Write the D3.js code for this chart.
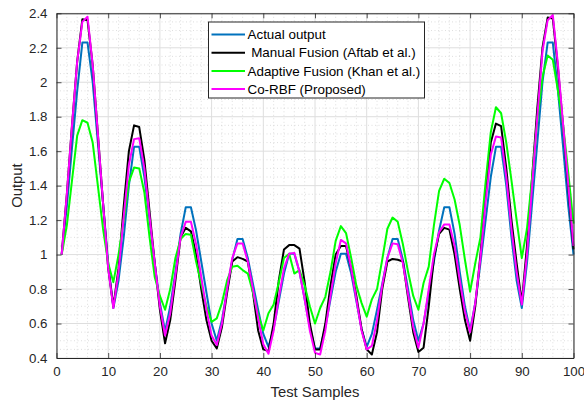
<!DOCTYPE html>
<html>
<head>
<meta charset="utf-8">
<script src="https://cdn.jsdelivr.net/npm/d3@7"></script>
<style>
  html, body { margin: 0; padding: 0; background: #fff; }
  svg { display: block; }
  text { font-family: "Liberation Sans", Arial, Helvetica, sans-serif; }
</style>
</head>
<body>
<svg id="chart" width="584" height="405"></svg>
<script>
// ---------------- data ----------------
const xTicks = [0, 10, 20, 30, 40, 50, 60, 70, 80, 90, 100];
const yTicks = [0.4, 0.6, 0.8, 1, 1.2, 1.4, 1.6, 1.8, 2, 2.2, 2.4];
const yTickLabels = ["0.4", "0.6", "0.8", "1", "1.2", "1.4", "1.6", "1.8", "2", "2.2", "2.4"];

const seriesNames = ["Actual output", " Manual Fusion (Aftab et al.)", "Adaptive Fusion (Khan et al.)", "Co-RBF (Proposed)"];
const seriesColors = ["#0072BD", "#000000", "#00FF00", "#FF00FF"];

const actualOutput = [
  1.00, 1.28, 1.62, 1.95, 2.23, 2.23, 2.00, 1.65, 1.30, 0.95,
  0.69, 0.85, 1.10, 1.40, 1.625, 1.625, 1.45, 1.20, 0.95, 0.72,
  0.555, 0.70, 0.90, 1.12, 1.275, 1.275, 1.14, 0.96, 0.78, 0.60,
  0.50, 0.62, 0.80, 0.97, 1.09, 1.09, 0.98, 0.83, 0.68, 0.54,
  0.465, 0.57, 0.73, 0.89, 1.005, 1.005, 0.90, 0.74, 0.58, 0.455,
  0.455, 0.58, 0.74, 0.90, 1.005, 1.005, 0.89, 0.73, 0.57, 0.465,
  0.54, 0.68, 0.83, 0.98, 1.09, 1.09, 0.97, 0.80, 0.62, 0.50,
  0.60, 0.78, 0.96, 1.14, 1.275, 1.275, 1.12, 0.90, 0.70, 0.56,
  0.72, 0.95, 1.20, 1.45, 1.625, 1.625, 1.40, 1.10, 0.85, 0.69,
  0.95, 1.30, 1.65, 2.00, 2.23, 2.23, 1.95, 1.62, 1.28, 1.00
];

const manualFusion = [
  1.00, 1.35, 1.75, 2.12, 2.365, 2.36, 2.10, 1.70, 1.30, 0.92,
  0.70, 0.92, 1.28, 1.60, 1.75, 1.74, 1.55, 1.25, 0.95, 0.68,
  0.485, 0.62, 0.85, 1.10, 1.155, 1.135, 1.00, 0.80, 0.62, 0.50,
  0.455, 0.58, 0.78, 0.96, 0.985, 0.975, 0.96, 0.78, 0.56, 0.45,
  0.44, 0.60, 0.85, 1.03, 1.055, 1.055, 1.035, 0.84, 0.60, 0.45,
  0.45, 0.60, 0.82, 1.00, 1.05, 1.05, 0.92, 0.76, 0.57, 0.45,
  0.42, 0.55, 0.80, 0.96, 0.975, 0.97, 0.96, 0.75, 0.55, 0.435,
  0.46, 0.70, 0.98, 1.12, 1.155, 1.145, 1.00, 0.80, 0.62, 0.50,
  0.70, 1.00, 1.35, 1.65, 1.76, 1.745, 1.50, 1.20, 0.95, 0.72,
  1.05, 1.45, 1.85, 2.20, 2.375, 2.37, 2.08, 1.74, 1.38, 1.03
];

const adaptiveFusion = [
  1.00, 1.17, 1.43, 1.69, 1.78, 1.765, 1.65, 1.40, 1.15, 0.95,
  0.84, 1.00, 1.20, 1.42, 1.505, 1.50, 1.36, 1.10, 0.87, 0.76,
  0.68, 0.80, 0.98, 1.09, 1.12, 1.115, 0.96, 0.83, 0.70, 0.61,
  0.63, 0.72, 0.85, 0.93, 0.935, 0.91, 0.89, 0.78, 0.65, 0.56,
  0.66, 0.71, 0.84, 0.98, 1.005, 0.89, 0.91, 0.82, 0.70, 0.60,
  0.69, 0.755, 0.90, 1.08, 1.165, 1.125, 0.98, 0.82, 0.72, 0.64,
  0.74, 0.80, 0.97, 1.15, 1.215, 1.19, 1.06, 0.90, 0.76, 0.68,
  0.835, 0.93, 1.17, 1.37, 1.44, 1.415, 1.32, 1.17, 0.97, 0.785,
  0.95, 1.10, 1.42, 1.71, 1.855, 1.82, 1.65, 1.43, 1.20, 0.98,
  1.15, 1.45, 1.78, 2.03, 2.155, 2.13, 1.95, 1.75, 1.47, 1.18
];

const coRBF = [
  1.00, 1.35, 1.75, 2.12, 2.35, 2.38, 2.10, 1.70, 1.30, 0.92,
  0.69, 0.90, 1.22, 1.52, 1.67, 1.675, 1.50, 1.22, 0.95, 0.70,
  0.53, 0.66, 0.88, 1.10, 1.19, 1.19, 1.06, 0.87, 0.68, 0.53,
  0.475, 0.60, 0.80, 0.98, 1.065, 1.065, 0.96, 0.80, 0.63, 0.48,
  0.425, 0.56, 0.75, 0.92, 1.005, 1.01, 0.90, 0.74, 0.56, 0.43,
  0.42, 0.56, 0.76, 0.95, 1.085, 1.065, 0.92, 0.74, 0.56, 0.45,
  0.47, 0.62, 0.82, 0.98, 1.065, 1.06, 0.95, 0.77, 0.58, 0.46,
  0.60, 0.80, 1.00, 1.13, 1.175, 1.175, 1.05, 0.85, 0.67, 0.55,
  0.72, 0.98, 1.30, 1.58, 1.685, 1.68, 1.45, 1.15, 0.90, 0.71,
  1.00, 1.40, 1.80, 2.18, 2.36, 2.39, 2.10, 1.75, 1.40, 1.05
];

const seriesValues = [actualOutput, manualFusion, adaptiveFusion, coRBF];

// ---------------- layout ----------------
const svg = d3.select("#chart");
const pL = 56.5, pR = 573.5, pT = 13.3, pB = 358;
const axisColor = "#262626";

const x = d3.scaleLinear().domain([0, 100]).range([pL, pR]);
const y = d3.scaleLinear().domain([0.4, 2.4]).range([pB, pT]);

svg.append("rect").attr("x", pL).attr("y", pT)
  .attr("width", pR - pL).attr("height", pB - pT).attr("fill", "#fff");

// minor grid (dotted)
const minorX = d3.range(0, 101, 2).filter(v => v % 10 !== 0);
const minorY = d3.range(0, 41).filter(i => i % 4 !== 0).map(i => 0.4 + i * 0.05);
const grid = svg.append("g");
grid.selectAll(".mx").data(minorX).join("line")
  .attr("x1", d => x(d)).attr("x2", d => x(d)).attr("y1", pT).attr("y2", pB)
  .attr("stroke", "#c8c8c8").attr("stroke-width", 0.6).attr("stroke-dasharray", "1,2.5");
grid.selectAll(".my").data(minorY).join("line")
  .attr("y1", d => y(d)).attr("y2", d => y(d)).attr("x1", pL).attr("x2", pR)
  .attr("stroke", "#c8c8c8").attr("stroke-width", 0.6).attr("stroke-dasharray", "1,2.5");

// major grid
grid.selectAll(".gx").data(xTicks).join("line")
  .attr("x1", d => x(d)).attr("x2", d => x(d)).attr("y1", pT).attr("y2", pB)
  .attr("stroke", "#dedede").attr("stroke-width", 1);
grid.selectAll(".gy").data(yTicks).join("line")
  .attr("y1", d => y(d)).attr("y2", d => y(d)).attr("x1", pL).attr("x2", pR)
  .attr("stroke", "#dedede").attr("stroke-width", 1);

// series lines
const line = d3.line().x((d, i) => x(i + 1)).y(d => y(d));
const plot = svg.append("g");
seriesValues.forEach((vals, k) => {
  plot.append("path").datum(vals)
    .attr("d", line)
    .attr("fill", "none")
    .attr("stroke", seriesColors[k])
    .attr("stroke-width", 2)
    .attr("stroke-linejoin", "round");
});

// axes (box with inward ticks)
const tickLen = 5;
const axB = svg.append("g").attr("transform", `translate(0,${pB})`)
  .call(d3.axisBottom(x).tickValues(xTicks).tickSizeInner(-tickLen).tickSizeOuter(0).tickPadding(9));
const axT = svg.append("g").attr("transform", `translate(0,${pT})`)
  .call(d3.axisTop(x).tickValues(xTicks).tickSizeInner(-tickLen).tickSizeOuter(0).tickFormat(""));
const axL = svg.append("g").attr("transform", `translate(${pL},0)`)
  .call(d3.axisLeft(y).tickValues(yTicks).tickSizeInner(-tickLen).tickSizeOuter(0).tickPadding(9)
    .tickFormat((d, i) => yTickLabels[i]));
const axR = svg.append("g").attr("transform", `translate(${pR},0)`)
  .call(d3.axisRight(y).tickValues(yTicks).tickSizeInner(-tickLen).tickSizeOuter(0).tickFormat(""));

[axB, axT, axL, axR].forEach(a => {
  a.select(".domain").attr("stroke", axisColor).attr("stroke-width", 1);
  a.selectAll(".tick line").attr("stroke", axisColor).attr("stroke-width", 0.8);
  a.selectAll(".tick text").attr("fill", axisColor)
    .style("font-size", "13.3px").style("font-family", "'Liberation Sans', Arial, sans-serif");
});

// axis labels
svg.append("text").attr("x", (pL + pR) / 2).attr("y", 397)
  .attr("text-anchor", "middle").attr("fill", axisColor)
  .style("font-size", "14.8px").text("Test Samples");
svg.append("text")
  .attr("transform", `translate(22,${(pT + pB) / 2}) rotate(-90)`)
  .attr("text-anchor", "middle").attr("fill", axisColor)
  .style("font-size", "14.8px").text("Output");

// legend
const lg = svg.append("g");
const lgX = 208.5, lgY = 22, lgW = 216, lgH = 76;
lg.append("rect").attr("x", lgX).attr("y", lgY).attr("width", lgW).attr("height", lgH)
  .attr("fill", "#fff").attr("stroke", axisColor).attr("stroke-width", 1);
const rowY = [34.5, 52.7, 71, 89];
seriesNames.forEach((name, k) => {
  lg.append("line").attr("x1", 211.5).attr("x2", 245).attr("y1", rowY[k]).attr("y2", rowY[k])
    .attr("stroke", seriesColors[k]).attr("stroke-width", 2);
  lg.append("text").attr("x", 247.5).attr("y", rowY[k] + 4.7)
    .attr("fill", "#000").style("font-size", "13.4px").style("white-space", "pre")
    .attr("xml:space", "preserve").text(name);
});
</script>
</body>
</html>
